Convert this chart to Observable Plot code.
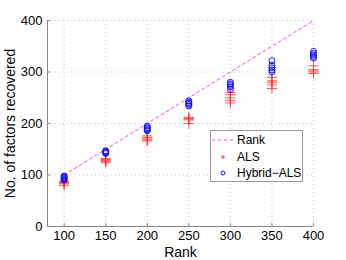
<!DOCTYPE html>
<html><head><meta charset="utf-8">
<script src="https://cdn.jsdelivr.net/npm/d3@7"></script>
<script src="https://cdn.jsdelivr.net/npm/@observablehq/plot@0.6"></script>
<style>
body{margin:0;background:#fff;font-family:"Liberation Sans",Arial,sans-serif;}
#wrap{position:relative;width:346px;height:260px;}
#legend{position:absolute;left:210px;top:130px;width:91px;height:50px;border:1px solid #999;background:#fff;font-size:12px;color:#000;}
.row{position:absolute;left:0;height:14px;display:flex;align-items:center;}
.row svg{width:24px;height:14px;}
.row span{margin-left:2px;}
</style></head><body>
<div id="wrap"></div>
<script>
const ranks = [100, 150, 200, 250, 300, 350, 400];
const hybridALS = [
  [98, 96, 94, 92, 90],
  [147, 146, 145, 143, 142],
  [195, 192, 190, 188, 186],
  [244, 241, 239, 237, 234],
  [280, 277, 274, 271, 266],
  [322, 313, 308, 304, 300],
  [340, 336, 333, 330, 327]
];
const als = [
  [88, 86, 85, 83, 80],
  [132, 130, 128, 126, 124],
  [176, 173, 170, 168, 166],
  [212, 210, 209, 207, 200],
  [260, 256, 250, 245, 240],
  [290, 283, 280, 275, 268],
  [312, 305, 302, 300, 297]
];
const xTicks = [100, 150, 200, 250, 300, 350, 400];
const yTicks = [0, 100, 200, 300, 400];
const legendLabels = ["Rank", "ALS", "Hybrid−ALS"];

const alsPts = ranks.flatMap((r, i) => als[i].map(v => ({rank: r, value: v})));
const hybPts = ranks.flatMap((r, i) => hybridALS[i].map(v => ({rank: r, value: v})));

const chart = Plot.plot({
  width: 346, height: 260,
  marginLeft: 47, marginRight: 33, marginTop: 20, marginBottom: 34,
  style: {fontFamily: '"Liberation Sans", Arial, sans-serif', fontSize: "13px", background: "#fff", color: "#000"},
  x: {domain: [80, 400], ticks: xTicks},
  y: {domain: [0, 400], ticks: yTicks},
  marks: [
    Plot.gridX(xTicks, {stroke: "#bbb", strokeOpacity: 1, strokeWidth: 0.8, strokeDasharray: "1,3"}),
    Plot.gridY(yTicks.filter(d => d > 0), {stroke: "#bbb", strokeOpacity: 1, strokeWidth: 0.8, strokeDasharray: "1,3"}),
    Plot.ruleX([80], {stroke: "#888"}),
    Plot.ruleY([0], {stroke: "#888"}),
    Plot.ruleX(xTicks, {x: d => d, y1: 0, y2: 6, stroke: "#888"}),
    Plot.ruleY(yTicks, {y: d => d, x1: 80, x2: 84, stroke: "#888"}),
    Plot.axisX(xTicks, {tickSize: 0, tickPadding: 4, fontSize: 13, label: null}),
    Plot.axisY(yTicks, {tickSize: 0, tickPadding: 5, fontSize: 13, label: null}),
    Plot.text(["Rank"], {frameAnchor: "bottom", lineAnchor: "bottom", dy: 30, fontSize: 14}),
    Plot.text(["No. of factors recovered"], {frameAnchor: "left", textAnchor: "middle", dx: -37, rotate: -90, fontSize: 14}),
    Plot.line(ranks, {x: d => d, y: d => d, stroke: "#ff44ff", strokeWidth: 1, strokeDasharray: "3,3"}),
    Plot.dot(alsPts, {x: "rank", y: "value", symbol: "plus", r: 3.4, stroke: "#ff3030", strokeWidth: 0.8}),
    Plot.dot(hybPts, {x: "rank", y: "value", symbol: "circle", r: 3, stroke: "#1010ff", fill: "none", strokeWidth: 1})
  ]
});
const wrap = document.getElementById("wrap");
wrap.appendChild(chart);

const leg = document.createElement("div");
leg.id = "legend";
const samples = [
  '<line x1="1" y1="7" x2="23" y2="7" stroke="#ff44ff" stroke-dasharray="3,3"/>',
  '<path d="M12,5V9M10,7H14" stroke="#ff3030" stroke-width="0.9"/>',
  '<circle cx="12" cy="7" r="2" fill="none" stroke="#1010ff"/>'
];
legendLabels.forEach((t, i) => {
  const row = document.createElement("div");
  row.className = "row";
  row.style.top = (2 + i * 16.5) + "px";
  row.innerHTML = `<svg>${samples[i]}</svg><span>${t}</span>`;
  leg.appendChild(row);
});
wrap.appendChild(leg);
</script>
</body></html>
